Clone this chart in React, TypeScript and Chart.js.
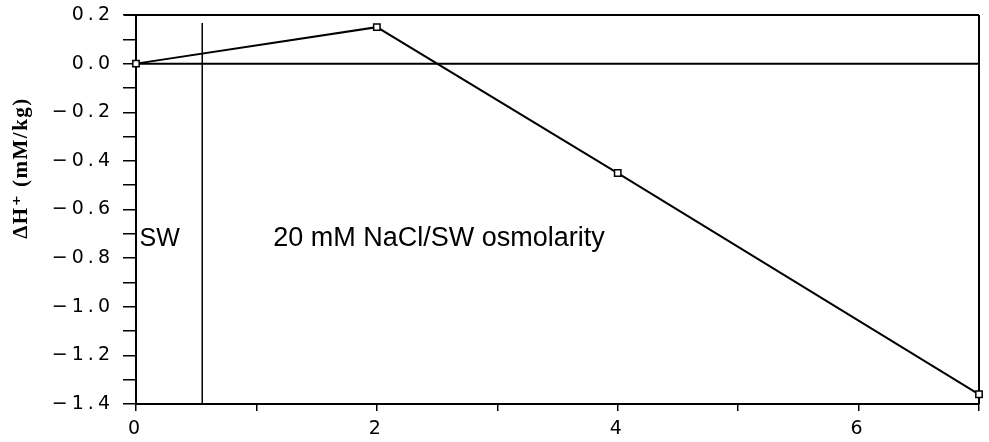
import React, { useEffect, useRef } from 'react';
import { Chart, registerables } from 'chart.js';

Chart.register(...registerables);

const xValues = [0, 2, 4, 7];
const yValues = [0, 0.15, -0.45, -1.36];
const xMin = 0;
const xMax = 7;
const yMin = -1.4;
const yMax = 0.2;
const xLabelValues = [0, 2, 4, 6];
const boundaryX = 0.55;
const yTitle = 'ΔH⁺ (mM/kg)';
const regionLabels = ['SW', '20 mM NaCl/SW osmolarity'];
const regionLabelX = [0.03, 1.14];
const regionLabelY = -0.75;

const fmtY = (v: number) => (v < 0 ? '\u2212' : '') + Math.abs(v).toFixed(1);

const SPACING = '4px';

const decorPlugin = {
  id: 'decor',
  beforeLayout(chart: any) {
    chart.ctx.letterSpacing = SPACING;
  },
  beforeDraw(chart: any) {
    chart.ctx.letterSpacing = SPACING;
  },
  beforeDatasetsDraw(chart: any) {
    const { ctx, chartArea, scales } = chart;
    const x = scales.x;
    const y = scales.y;
    ctx.save();
    ctx.strokeStyle = '#000';
    ctx.lineWidth = 2;
    ctx.beginPath();
    ctx.moveTo(chartArea.left - 12, chartArea.top);
    ctx.lineTo(chartArea.right, chartArea.top);
    ctx.stroke();
    ctx.beginPath();
    ctx.moveTo(chartArea.right, chartArea.top);
    ctx.lineTo(chartArea.right, chartArea.bottom);
    ctx.stroke();
    ctx.beginPath();
    ctx.moveTo(chartArea.left, y.getPixelForValue(0));
    ctx.lineTo(chartArea.right, y.getPixelForValue(0));
    ctx.stroke();
    ctx.lineWidth = 1.5;
    const bx = x.getPixelForValue(boundaryX);
    ctx.beginPath();
    ctx.moveTo(bx, chartArea.top + 8);
    ctx.lineTo(bx, chartArea.bottom);
    ctx.stroke();
    ctx.restore();
  },
  afterDraw(chart: any) {
    const { ctx, scales } = chart;
    const x = scales.x;
    const y = scales.y;
    ctx.save();
    ctx.letterSpacing = '0px';
    ctx.fillStyle = '#000';
    ctx.textBaseline = 'alphabetic';
    ctx.textAlign = 'left';
    ctx.font = '25px "Liberation Sans", Arial, sans-serif';
    const ly = y.getPixelForValue(regionLabelY);
    ctx.fillText(regionLabels[0], x.getPixelForValue(regionLabelX[0]), ly);
    ctx.font = '27px "Liberation Sans", Arial, sans-serif';
    ctx.fillText(regionLabels[1], x.getPixelForValue(regionLabelX[1]), ly);
    ctx.restore();

    ctx.save();
    ctx.letterSpacing = '1.5px';
    ctx.fillStyle = '#000';
    ctx.font = 'bold 21px "Liberation Serif", "DejaVu Serif", serif';
    ctx.textAlign = 'center';
    ctx.textBaseline = 'middle';
    ctx.translate(22, 168);
    ctx.rotate(-Math.PI / 2);
    ctx.fillText(yTitle, 0, 0);
    ctx.restore();
  },
};

export default function App() {
  const ref = useRef<HTMLCanvasElement | null>(null);
  useEffect(() => {
    document.body.style.margin = '0';
    if (!ref.current) return;
    const data = xValues.map((v, i) => ({ x: v, y: yValues[i] }));
    const chart = new Chart(ref.current, {
      type: 'line',
      data: {
        datasets: [
          {
            data,
            borderColor: '#000',
            borderWidth: 2,
            pointStyle: 'rect',
            pointRadius: 4.5,
            pointBorderWidth: 1.5,
            pointBorderColor: '#000',
            pointBackgroundColor: '#fff',
            tension: 0,
            clip: false as any,
          },
        ],
      },
      options: {
        animation: false,
        responsive: false,
        events: [],
        layout: { padding: { top: 15, right: 10, left: 0, bottom: 0 } },
        plugins: { legend: { display: false }, tooltip: { enabled: false } },
        scales: {
          x: {
            type: 'linear',
            min: xMin,
            max: xMax,
            afterFit: (s: any) => {
              s.height = 38;
              s.paddingLeft = 0;
              s.paddingRight = 0;
            },
            ticks: {
              stepSize: 1,
              autoSkip: false,
              maxRotation: 0,
              padding: 7,
              color: '#000',
              font: { family: '"DejaVu Sans", sans-serif', size: 19 },
              callback: (v: any) => (xLabelValues.includes(Number(v)) ? String(v) : ''),
            },
            grid: { drawOnChartArea: false, tickLength: 7, color: '#000', lineWidth: 1.5 },
            border: { color: '#000', width: 2 },
          },
          y: {
            type: 'linear',
            min: yMin,
            max: yMax,
            afterFit: (s: any) => {
              s.width = 136;
              s.paddingTop = 0;
              s.paddingBottom = 0;
            },
            ticks: {
              stepSize: 0.1,
              autoSkip: false,
              padding: 9,
              color: '#000',
              font: { family: '"DejaVu Sans", sans-serif', size: 19 },
              callback: (v: any) => {
                const n = Math.round(Number(v) * 10);
                return n % 2 === 0 ? fmtY(n / 10) : '';
              },
            },
            grid: { drawOnChartArea: false, tickLength: 13, color: '#000', lineWidth: 1.5 },
            border: { color: '#000', width: 2 },
          },
        },
      },
      plugins: [decorPlugin],
    } as any);
    return () => chart.destroy();
  }, []);
  return <canvas ref={ref} width={989} height={442} style={{ display: 'block' }} />;
}
